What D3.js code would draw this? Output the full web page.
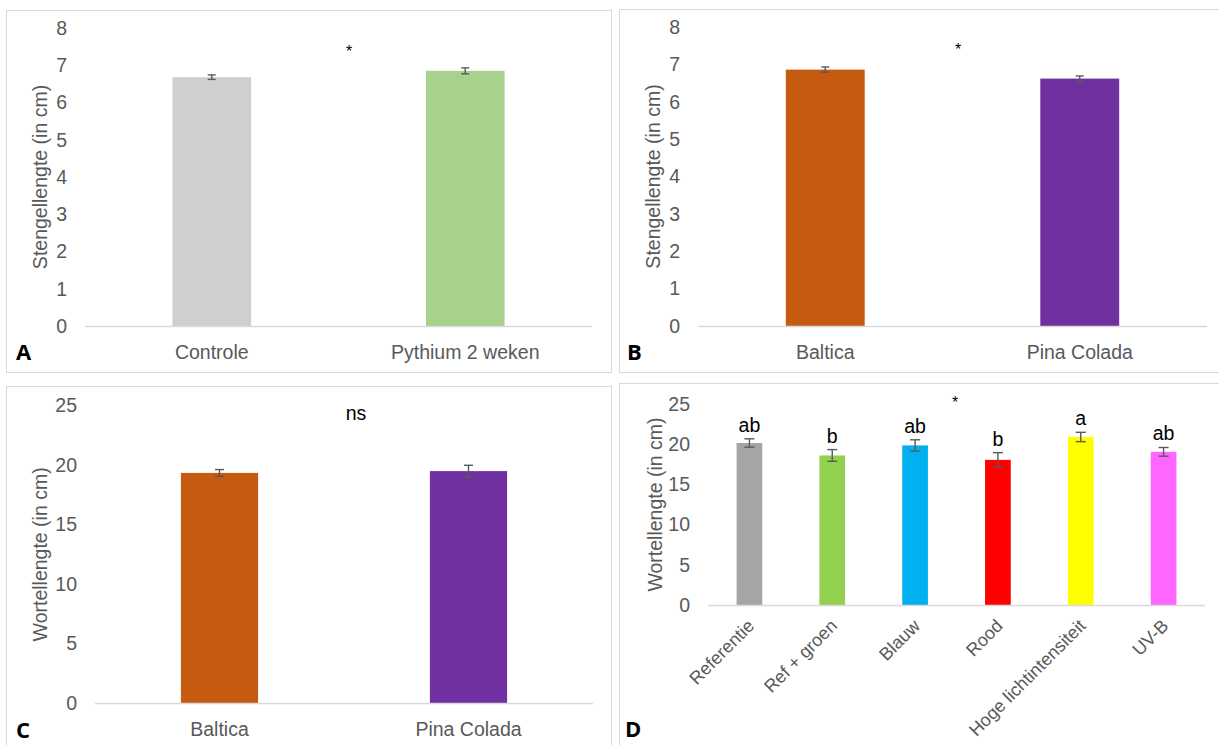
<!DOCTYPE html>
<html>
<head>
<meta charset="utf-8">
<script src="https://cdn.jsdelivr.net/npm/d3@7/dist/d3.min.js"></script>
<style>
  body { margin: 0; background: #fff; }
  svg { display: block; font-family: "Liberation Sans", Arial, sans-serif; }
</style>
</head>
<body>
<script>
// panel A: stem length, control vs Pythium
const stemCategoriesA = ['Controle', 'Pythium 2 weken'];
const stemValuesA = [6.68, 6.85];
const stemErrorsA = [0.06, 0.08];

// panel B: stem length per cultivar
const stemCategoriesB = ['Baltica', 'Pina Colada'];
const stemValuesB = [6.86, 6.62];
const stemErrorsB = [0.07, 0.07];

// panel C: root length per cultivar
const rootCategoriesC = ['Baltica', 'Pina Colada'];
const rootValuesC = [19.35, 19.5];
const rootErrorsC = [0.28, 0.49];

// panel D: root length per light treatment
const rootCategoriesD = ['Referentie', 'Ref + groen', 'Blauw', 'Rood', 'Hoge lichtintensiteit', 'UV-B'];
const rootValuesD = [20.15, 18.6, 19.85, 18.05, 20.9, 19.05];
const rootErrorsD = [0.52, 0.73, 0.7, 0.9, 0.58, 0.54];
const rootLettersD = ['ab', 'b', 'ab', 'b', 'a', 'ab'];

const stemTicks = [0, 1, 2, 3, 4, 5, 6, 7, 8];
const rootTicks = [0, 5, 10, 15, 20, 25];

const coloursA = ['#d0cece', '#a9d18e'];
const coloursBC = ['#c55a11', '#7030a0'];
const coloursD = ['#a5a5a5', '#92d050', '#00b0f0', '#ff0000', '#ffff00', '#ff66ff'];

const grey = '#595959';
const fontSize = 19.5;

const svg = d3.select('body')
    .append('svg')
    .attr('width', 1219)
    .attr('height', 745);

// panel frames (B and D run off the right edge, C and D off the bottom)
const frames = [
    { x: 6, y: 10, w: 605, h: 362 },
    { x: 619, y: 9, w: 620, h: 363 },
    { x: 6, y: 386, w: 605, h: 380 },
    { x: 619, y: 383, w: 620, h: 380 }
];
svg.selectAll('rect.frame')
    .data(frames)
    .enter()
    .append('rect')
    .attr('class', 'frame')
    .attr('x', d => d.x + 0.5)
    .attr('y', d => d.y + 0.5)
    .attr('width', d => d.w)
    .attr('height', d => d.h)
    .attr('fill', 'none')
    .attr('stroke', '#d9d9d9')
    .attr('stroke-width', 1);

function drawPanel(p) {
    const x = d3.scaleBand()
        .domain(p.categories)
        .range([p.left, p.right])
        .paddingInner(0.69)
        .paddingOuter(0.345);

    const y = d3.scaleLinear()
        .domain([0, p.ticks[p.ticks.length - 1]])
        .range([p.bottom, p.top]);

    const g = svg.append('g');

    // y axis labels only
    const yAxis = g.append('g')
        .attr('transform', `translate(${p.left},0)`)
        .call(d3.axisLeft(y).tickValues(p.ticks).tickSize(0).tickPadding(18));
    yAxis.select('.domain').remove();
    yAxis.selectAll('text')
        .attr('fill', grey)
        .style('font-size', fontSize + 'px')
        .style('font-family', '"Liberation Sans", Arial, sans-serif');

    // bars
    const data = p.categories.map((c, i) => ({ c, v: p.values[i], e: p.errors[i], col: p.colours[i] }));
    g.selectAll('rect.bar')
        .data(data)
        .enter()
        .append('rect')
        .attr('class', 'bar')
        .attr('x', d => x(d.c))
        .attr('y', d => y(d.v))
        .attr('width', x.bandwidth())
        .attr('height', d => y(0) - y(d.v))
        .attr('fill', d => d.col);

    // baseline
    g.append('line')
        .attr('x1', p.left)
        .attr('x2', p.right)
        .attr('y1', y(0) + 0.5)
        .attr('y2', y(0) + 0.5)
        .attr('stroke', '#d9d9d9')
        .attr('stroke-width', 1.3);

    // error bars
    const cx = d => x(d.c) + x.bandwidth() / 2;
    const err = g.selectAll('g.err')
        .data(data)
        .enter()
        .append('g')
        .attr('class', 'err')
        .attr('stroke', grey)
        .attr('stroke-width', 1.4);
    err.append('line')
        .attr('x1', cx).attr('x2', cx)
        .attr('y1', d => y(d.v - d.e)).attr('y2', d => y(d.v + d.e));
    err.append('line')
        .attr('x1', d => cx(d) - p.cap / 2).attr('x2', d => cx(d) + p.cap / 2)
        .attr('y1', d => y(d.v + d.e)).attr('y2', d => y(d.v + d.e));
    err.append('line')
        .attr('x1', d => cx(d) - p.cap / 2).attr('x2', d => cx(d) + p.cap / 2)
        .attr('y1', d => y(d.v - d.e)).attr('y2', d => y(d.v - d.e));

    // x axis labels
    const xAxis = g.append('g')
        .attr('transform', `translate(0,${p.bottom})`)
        .call(d3.axisBottom(x).tickSize(0).tickPadding(19));
    xAxis.select('.domain').remove();
    const xt = xAxis.selectAll('text')
        .attr('fill', grey)
        .style('font-size', fontSize + 'px')
        .style('font-family', '"Liberation Sans", Arial, sans-serif');
    if (p.rotate) {
        xt.attr('x', 0)
            .attr('y', 0)
            .attr('dy', 0)
            .attr('text-anchor', 'end')
            .style('font-size', '18px')
            .attr('transform', 'translate(6,22) rotate(-45)');
    }

    // axis title
    g.append('text')
        .attr('transform', `translate(${p.titleX},${(p.top + p.bottom) / 2}) rotate(-90)`)
        .attr('text-anchor', 'middle')
        .attr('dy', '0.35em')
        .attr('fill', grey)
        .style('font-size', fontSize + 'px')
        .text(p.title);

    // significance mark
    g.append('text')
        .attr('x', p.markX)
        .attr('y', p.markY)
        .attr('text-anchor', 'middle')
        .attr('fill', '#000')
        .style('font-size', p.markSize + 'px')
        .text(p.mark);

    // letters above bars
    if (p.letters) {
        g.selectAll('text.letter')
            .data(data)
            .enter()
            .append('text')
            .attr('class', 'letter')
            .attr('x', cx)
            .attr('y', d => y(d.v + d.e) - 7)
            .attr('text-anchor', 'middle')
            .attr('fill', '#000')
            .style('font-size', fontSize + 'px')
            .text((d, i) => p.letters[i]);
    }

    // panel letter
    g.append('text')
        .attr('x', p.tagX)
        .attr('y', p.tagY)
        .attr('fill', '#000')
        .style('font-family', '"Open Sans", "DejaVu Sans", sans-serif')
        .style('font-weight', 700)
        .style('font-size', '22px')
        .text(p.tag);
}

drawPanel({
    categories: stemCategoriesA, values: stemValuesA, errors: stemErrorsA, colours: coloursA,
    ticks: stemTicks, left: 85, right: 592, top: 28, bottom: 326, cap: 8,
    title: 'Stengellengte (in cm)', titleX: 40,
    mark: '*', markX: 349, markY: 57, markSize: 16,
    tag: 'A', tagX: 16, tagY: 360
});

drawPanel({
    categories: stemCategoriesB, values: stemValuesB, errors: stemErrorsB, colours: coloursBC,
    ticks: stemTicks, left: 698, right: 1207, top: 27, bottom: 326, cap: 8,
    title: 'Stengellengte (in cm)', titleX: 653,
    mark: '*', markX: 958, markY: 55, markSize: 16,
    tag: 'B', tagX: 627, tagY: 360
});

drawPanel({
    categories: rootCategoriesC, values: rootValuesC, errors: rootErrorsC, colours: coloursBC,
    ticks: rootTicks, left: 95, right: 593, top: 405.7, bottom: 703, cap: 9,
    title: 'Wortellengte (in cm)', titleX: 40,
    mark: 'ns', markX: 356, markY: 420, markSize: fontSize,
    tag: 'C', tagX: 16, tagY: 738
});

drawPanel({
    categories: rootCategoriesD, values: rootValuesD, errors: rootErrorsD, colours: coloursD,
    ticks: rootTicks, left: 708, right: 1205, top: 404, bottom: 605, cap: 10,
    title: 'Wortellengte (in cm)', titleX: 655,
    mark: '*', markX: 955, markY: 408, markSize: 16,
    letters: rootLettersD, rotate: true,
    tag: 'D', tagX: 625, tagY: 737
});
</script>
</body>
</html>
